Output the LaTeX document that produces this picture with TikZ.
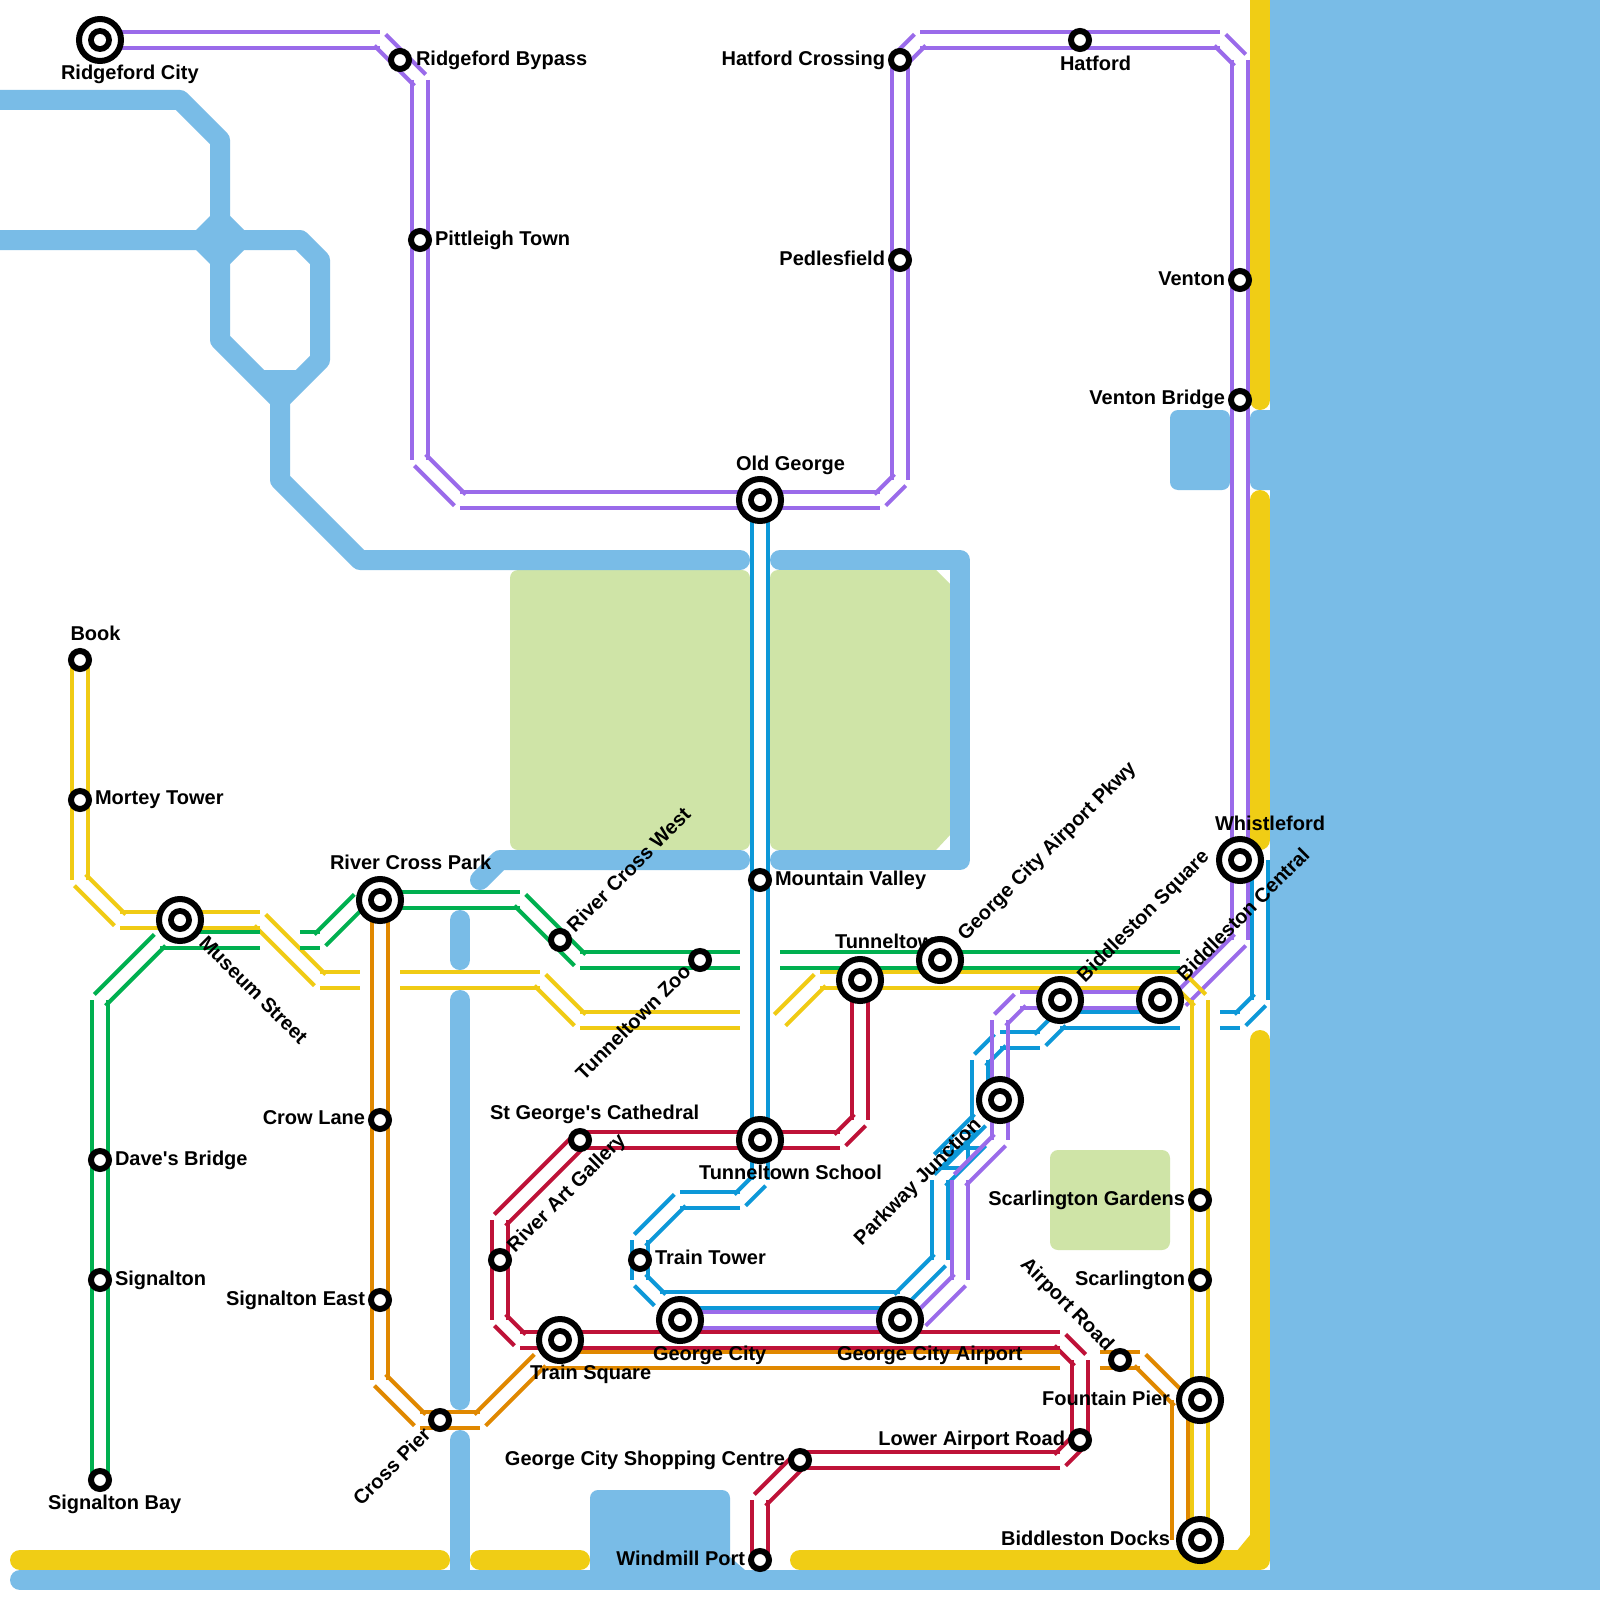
\documentclass[tikz,border=0pt]{standalone}
\usepackage{fontspec}
\setmainfont{Liberation Sans}[Ligatures=TeXOff]
\usetikzlibrary{calc}
\pgfdeclarelayer{waterlayer}
\pgfdeclarelayer{tracklayer}
\pgfdeclarelayer{labellayer}
\pgfsetlayers{waterlayer,tracklayer,labellayer,main}
\definecolor{wat}{HTML}{79BCE7}
\definecolor{prk}{HTML}{CFE4A7}
\definecolor{sand}{HTML}{F0CD15}
\definecolor{lpurple}{HTML}{9A6BEA}
\definecolor{lblue}{HTML}{0D98D8}
\definecolor{lgreen}{HTML}{00B050}
\definecolor{lyellow}{HTML}{F0CB14}
\definecolor{lorange}{HTML}{E08800}
\definecolor{lred}{HTML}{BE1238}
\tikzset{
  waterline/.style={draw=wat,line width=20pt,line cap=round,line join=round},
  sandline/.style={draw=sand,line width=20pt,line cap=round,line join=round},
  railline/.style={line width=4pt,line cap=butt},
  stn/.style={circle,draw=black,line width=6pt,fill=white,minimum size=18pt,inner sep=0pt},
  xchg/.style={circle,draw=black,line width=6pt,fill=white,minimum size=42pt,inner sep=0pt,
    path picture={\fill[black] (path picture bounding box.center) circle (12pt);
                  \fill[white] (path picture bounding box.center) circle (6pt);}},
  lbl/.style={font=\fontsize{20}{24}\selectfont\bfseries,text=black,inner sep=0pt,outer sep=0pt},
  lw/.style={lbl,anchor=base west},
  le/.style={lbl,anchor=base east},
}
\newcommand\trk[2]{%
  \foreach \b [count=\i, remember=\b as \a (initially x)] in {#2}{%
    \ifnum\i>1
      \draw[railline,draw=#1] ($(\a)!8pt!90:(\b)$) -- ($(\b)!8pt!-90:(\a)$);
      \draw[railline,draw=#1] ($(\a)!8pt!-90:(\b)$) -- ($(\b)!8pt!90:(\a)$);
    \fi}}
\begin{document}
\begin{tikzpicture}[x=1pt,y=-1pt]
\useasboundingbox (0,0) rectangle (1600,1600);
% stations
\foreach \n/\x/\y in {rbypass/400/60,pitt/420/240,hatcross/900/60,pedles/900/260,hatford/1080/40,
  venton/1240/280,vbridge/1240/400,rcwest/560/940,zoo/700/960,mvalley/760/880,book/80/660,mortey/80/800,
  dave/100/1160,signalton/100/1280,sbay/100/1480,crow/380/1120,sigeast/380/1300,crosspier/440/1420,
  stgeorge/580/1140,rag/500/1260,ttower/640/1260,gardens/1200/1200,scarl/1200/1280,airportrd/1120/1360,
  lowerair/1080/1440,shopping/800/1460,windmill/760/1560}
  \node[stn] (\n) at (\x,\y) {};
\foreach \n/\x/\y in {rcity/100/40,oldgeorge/760/500,whistle/1240/860,bcentral/1160/1000,bsquare/1060/1000,
  pkwy/940/960,tunnel/860/980,rcpark/380/900,museum/180/920,tsquare/560/1340,gcity/680/1320,gcairport/900/1320,
  tschool/760/1140,parkway/1000/1100,fpier/1200/1400,bdocks/1200/1540}
  \node[xchg] (\n) at (\x,\y) {};
% waypoints
\foreach \n/\x/\y in {pa/380/40,pb/420/80,pc/420/460,pd/460/500,pe/880/500,pf/900/480,pg/920/40,ph/1220/40,pi/1240/60,
  pj/1240/940,pk/1180/1000,pl/1020/1000,pm/1000/1020,pn/1000/1140,po/960/1180,pq/960/1280,pr/920/1320,
  ba/760/1180,bb/740/1200,bc/680/1200,bd/640/1240,be/640/1280,bf/660/1300,bg/900/1300,bh/940/1260,bi/940/1180,
  bj/980/1140,bk/960/1140,bl/960/1160,bm/940/1160,bn/980/1120,bo/980/1060,bq/1000/1040,br/1040/1040,bs/1060/1020,
  bt/1180/1020,bu/1220/1020,bv/1240/1020,bw/1260/1000,bx/1260/860,
  ga/100/1000,gb/160/940,gd/260/940,ge/300/940,gf/320/940,gg/360/900,gh/520/900,gi/580/960,gj/740/960,gk/780/960,gl/1180/960,
  ya/80/880,yb/120/920,yd/260/920,ye/320/980,yf/360/980,yg/400/980,yh/540/980,yi/580/1020,yj/740/1020,yk/780/1020,yl/820/980,ym/1180/980,yn/1200/1000,
  oa/380/1380,ob/420/1420,od/480/1420,oe/540/1360,of/1060/1360,oq/1100/1360,oh/1140/1360,oi/1180/1400,oj/1180/1540,
  ra/860/1120,rb/840/1140,rd/500/1220,re/500/1320,rf/520/1340,rg/1060/1340,rh/1080/1360,rj/1060/1460,rl/760/1500}
  \coordinate (\n) at (\x,\y);
% water and parks
\begin{pgfonlayer}{waterlayer}
\fill[white] (0,0) rectangle (1600,1600);
\fill[prk,rounded corners=8pt] (510,570) rectangle (750,850);
\fill[prk] (936,570) -- (950,584) -- (950,835) -- (936,850) [rounded corners=8pt] -- (770,850) -- (770,570) -- (900,570) [sharp corners] -- cycle;
\fill[prk,rounded corners=8pt] (1050,1150) rectangle (1170,1250);
\fill[wat] (1270,0) rectangle (1600,1590);
\fill[wat,rounded corners=8pt] (1170,410) rectangle (1230,490);
\fill[wat,rounded corners=8pt] (1250,410) rectangle (1280,490);
\draw[waterline] (0,100) -- (180,100) -- (220,140) -- (220,340) -- (280,400) -- (280,480) -- (360,560) -- (740,560);
\draw[waterline] (0,240) -- (300,240) -- (320,260) -- (320,360) -- (280,400);
\fill[wat] (186,240) -- (220,206) -- (254,240) -- (220,274) -- cycle;
\fill[wat] (264,370) -- (297,370) -- (300,390) -- (280,410) -- (260,390) -- cycle;
\draw[waterline] (780,560) -- (960,560) -- (960,860) -- (780,860);
\draw[waterline] (480,880) -- (500,860) -- (740,860);
\draw[waterline] (460,920) -- (460,960);
\draw[waterline] (460,1000) -- (460,1400);
\draw[waterline] (460,1440) -- (460,1580);
\draw[waterline] (20,1580) -- (1270,1580);
\fill[wat] (590,1580) [rounded corners=8pt] -- (590,1490) -- (730,1490) [sharp corners] -- (730,1557) -- (745,1570) -- (745,1580) -- cycle;
\draw[sandline] (1260,-20) -- (1260,400);
\draw[sandline] (1260,500) -- (1260,840);
\draw[sandline] (1260,1040) -- (1260,1560) -- (800,1560);
\fill[sand] (1250,1535) -- (1250,1552) -- (1236,1552) -- cycle;
\draw[sandline] (20,1560) -- (440,1560);
\draw[sandline] (480,1560) -- (580,1560);
\end{pgfonlayer}
% tracks
\begin{pgfonlayer}{tracklayer}
\trk{lblue}{oldgeorge,mvalley,tschool,ba,bb,bc,bd,ttower,be,bf,bg,bh,bi,bj,bk,bl,bm,bn,bo,bq,br,bs,bt}
\trk{lblue}{bu,bv,bw,bx}
\trk{lpurple}{rcity,pa,pb,pitt,pc,pd,oldgeorge,pe,pf,pedles,hatcross,pg,hatford,ph,pi,venton,vbridge,whistle,pj,pk,bcentral,bsquare,pl,pm,parkway,pn,po,pq,pr,gcairport,gcity}
\trk{lyellow}{book,mortey,ya,yb,yd,ye,yf}
\trk{lyellow}{yg,yh,yi,yj}
\trk{lyellow}{yk,yl,ym,yn,gardens,scarl,fpier,bdocks}
\trk{lgreen}{sbay,signalton,dave,ga,gb,gd}
\trk{lgreen}{ge,gf,gg,gh,gi,gj}
\trk{lgreen}{gk,gl}
\trk{lred}{tunnel,ra,rb,tschool,stgeorge,rd,rag,re,rf,rg,rh,lowerair,rj,shopping,rl,windmill}
\trk{lorange}{rcpark,crow,sigeast,oa,ob,od,oe,of}
\trk{lorange}{oq,oh,oi,oj}
\end{pgfonlayer}
% labels
\begin{pgfonlayer}{labellayer}
\node[lw] (t1) at (61,80) {Ridgeford City};
\node[lw] (t2) at (416,65.5) {Ridgeford Bypass};
\node[lw] (t3) at (435,245) {Pittleigh Town};
\node[le] (t4) at (885,65.5) {Hatford Crossing};
\node[lw] (t5) at (1060,70.5) {Hatford};
\node[le] (t6) at (885,265) {Pedlesfield};
\node[le] (t7) at (1225,285) {Venton};
\node[le] (t8) at (1225,404) {Venton Bridge};
\node[lw] (t9) at (736,470) {Old George};
\node[lw] (t10) at (70.5,640) {Book};
\node[lw] (t11) at (95,804) {Mortey Tower};
\node[lw,rotate=-45] (t12) at (198,944) {Museum Street};
\node[lw] (t13) at (330,869) {River Cross Park};
\node[lw,rotate=45] (t14) at (575,933) {River Cross West};
\node[le,rotate=45] (t15) at (692,973) {Tunneltown Zoo};
\node[lw] (t16) at (775,885) {Mountain Valley};
\node[lw] (t17) at (835,948) {Tunneltown};
\node[lw,rotate=45] (t18) at (965.5,941) {George City Airport Pkwy};
\node[lw,rotate=45] (t19) at (1085,983) {Biddleston Square};
\node[lw,rotate=45] (t20) at (1185,982) {Biddleston Central};
\node[lw] (t21) at (1215,830) {Whistleford};
\node[le] (t22) at (365,1124) {Crow Lane};
\node[le] (t23) at (365,1305) {Signalton East};
\node[lw] (t24) at (115,1165) {Dave's Bridge};
\node[lw] (t25) at (115,1285) {Signalton};
\node[lw] (t26) at (48,1509) {Signalton Bay};
\node[le,rotate=45] (t27) at (432,1436) {Cross Pier};
\node[lw] (t28) at (530,1379) {Train Square};
\node[lw] (t29) at (653,1360) {George City};
\node[lw] (t30) at (837,1360) {George City Airport};
\node[lw] (t31) at (699,1179) {Tunneltown School};
\node[lw] (t32) at (490,1119) {St George's Cathedral};
\node[lw,rotate=45] (t33) at (515,1253) {River Art Gallery};
\node[lw] (t34) at (655,1264) {Train Tower};
\node[le,rotate=45] (t35) at (982,1126) {Parkway Junction};
\node[le] (t36) at (1185,1205) {Scarlington Gardens};
\node[le] (t37) at (1185,1285) {Scarlington};
\node[le,rotate=-45] (t38) at (1106,1352) {Airport Road};
\node[le] (t39) at (1170,1405) {Fountain Pier};
\node[le] (t40) at (1065,1445) {Lower Airport Road};
\node[le] (t41) at (785,1465) {George City Shopping Centre};
\node[le] (t42) at (745,1565) {Windmill Port};
\node[le] (t43) at (1170,1545) {Biddleston Docks};
\end{pgfonlayer}
\end{tikzpicture}
\end{document}
